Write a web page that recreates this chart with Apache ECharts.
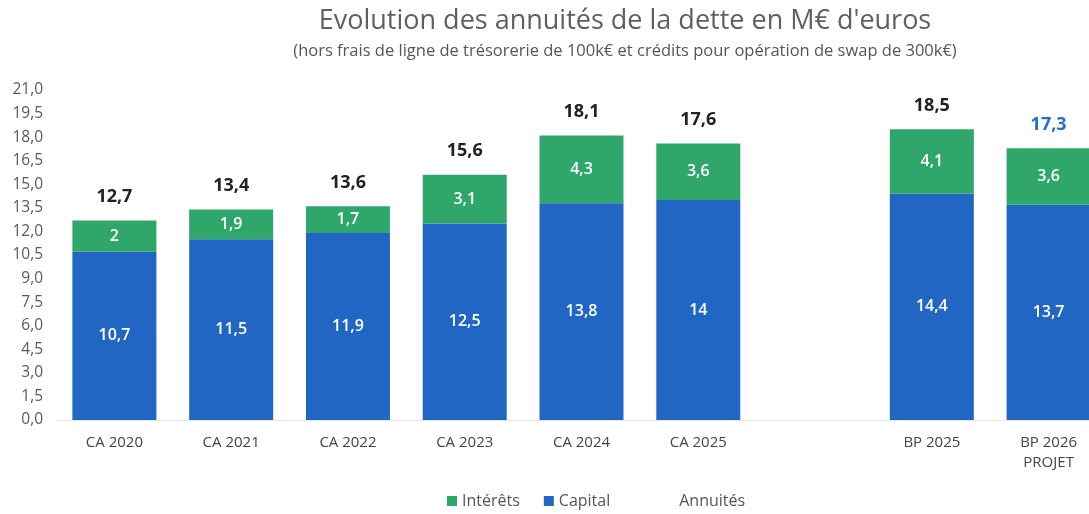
<!DOCTYPE html>
<html>
<head>
<meta charset="utf-8">
<script src="https://cdn.jsdelivr.net/npm/echarts@6/dist/echarts.min.js"></script>
<style>
  html, body { margin: 0; padding: 0; background: #fff; overflow: hidden; }
  /* the reference is cropped on the right, so the canvas runs past the window */
  #chart { width: 1110px; height: 514px; }
</style>
</head>
<body>
<div id="chart"></div>
<script>
// categories (empty slot between CA 2025 and BP 2025)
var categories = ['CA 2020', 'CA 2021', 'CA 2022', 'CA 2023', 'CA 2024', 'CA 2025', '', 'BP 2025', 'BP 2026\nPROJET'];
var capital = [10.7, 11.5, 11.9, 12.5, 13.8, 14, null, 14.4, 13.7];
var interets = [2, 1.9, 1.7, 3.1, 4.3, 3.6, null, 4.1, 3.6];
var annuites = [12.7, 13.4, 13.6, 15.6, 18.1, 17.6, null, 18.5, 17.3];

var font = "'Open Sans', 'Noto Sans', sans-serif";
var blue = '#2166c3';
var green = '#2fa76b';

function fr(v) {
  return String(v).replace('.', ',');
}

var chart = echarts.init(document.getElementById('chart'));

var option = {
  backgroundColor: '#ffffff',
  animation: false,
  textStyle: { fontFamily: font },
  title: {
    text: "Evolution des annuités de la dette en M€ d'euros",
    subtext: "(hors frais de ligne de trésorerie de 100k€ et crédits pour opération de swap de 300k€)",
    left: 620,
    textAlign: 'center',
    top: 3,
    itemGap: 8,
    textStyle: { fontSize: 27, fontWeight: 'normal', color: '#5f5f5f', fontFamily: font },
    subtextStyle: { fontSize: 16.5, color: '#555', fontFamily: font }
  },
  legend: {
    bottom: 0,
    left: 442,
    itemWidth: 10,
    itemHeight: 10,
    itemGap: 24,
    textStyle: { fontSize: 16, color: '#555', fontFamily: font },
    data: [
      { name: 'Intérêts', icon: 'rect' },
      { name: 'Capital', icon: 'rect' },
      { name: 'Annuités', icon: 'rect', itemStyle: { opacity: 0 }, textStyle: { padding: [0, 0, 0, 30] } }
    ]
  },
  grid: { left: 56, width: 1051, top: 90, bottom: 94 },
  xAxis: {
    type: 'category',
    data: categories,
    axisTick: { show: false },
    axisLine: { show: true, lineStyle: { color: '#e8e8e8' } },
    axisLabel: { fontSize: 15, color: '#444', margin: 13, lineHeight: 20, fontFamily: font }
  },
  yAxis: {
    type: 'value',
    min: 0,
    max: 21,
    interval: 1.5,
    splitLine: { show: false },
    axisLine: { show: false },
    axisTick: { show: false },
    axisLabel: {
      fontSize: 15.5,
      color: '#5a5a5a',
      margin: 13,
      fontFamily: font,
      formatter: function (v) { return v.toFixed(1).replace('.', ','); }
    }
  },
  series: [
    {
      name: 'Capital',
      type: 'bar',
      stack: 'a',
      barWidth: 84,
      data: capital,
      itemStyle: { color: blue },
      label: {
        show: true,
        position: 'inside',
        color: '#fff',
        fontSize: 16,
        fontWeight: 600,
        formatter: function (p) { return fr(p.value); }
      }
    },
    {
      name: 'Intérêts',
      type: 'bar',
      stack: 'a',
      barWidth: 84,
      data: interets,
      itemStyle: { color: green },
      label: {
        show: true,
        position: 'inside',
        color: '#fff',
        fontSize: 16,
        fontWeight: 600,
        formatter: function (p) { return fr(p.value); }
      }
    },
    {
      name: 'Annuités',
      type: 'line',
      data: annuites.map(function (v, i) {
        var d = { value: v };
        if (i === annuites.length - 1) {
          d.label = { color: '#1f6fc5' };
        }
        return d;
      }),
      symbol: 'circle',
      symbolSize: 1,
      itemStyle: { color: 'rgba(0,0,0,0)' },
      lineStyle: { opacity: 0 },
      label: {
        show: true,
        position: 'top',
        distance: 14,
        color: '#222',
        fontSize: 18,
        fontWeight: 'bold',
        formatter: function (p) { return fr(p.value); }
      }
    }
  ]
};

chart.setOption(option);
</script>
</body>
</html>
